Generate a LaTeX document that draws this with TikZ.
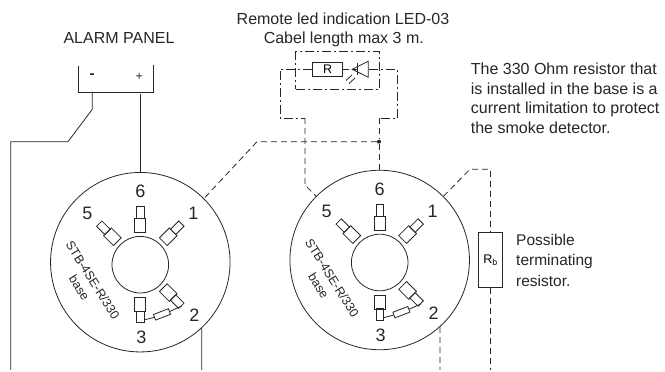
\documentclass[tikz,border=0pt]{standalone}
\usepackage{fontspec}
\setmainfont{Liberation Sans}
\usetikzlibrary{shapes.geometric}
\tikzset{
    wire/.style={line width=0.8pt,draw=black!85},
    dashwire/.style={wire,dash pattern=on 6pt off 4pt},
    ledwire/.style={wire,dash pattern=on 9pt off 3pt on 2pt off 3pt},
    box/.style={draw=black!85,line width=0.8pt,rectangle,inner sep=0pt},
    bigpin/.style={box,minimum width=11pt,minimum height=14pt},
    smallpin/.style={box,minimum width=7.5pt,minimum height=11.7pt},
    txt/.style={text=black!85,inner sep=0pt,font=\fontsize{16}{19.5}\selectfont},
    num/.style={text=black!85,inner sep=0pt,font=\fontsize{18}{20}\selectfont},
    small/.style={text=black!85,inner sep=0pt,font=\fontsize{12.5}{14}\selectfont},
}
\begin{document}
\begin{tikzpicture}[x=1pt,y=1pt]
    \useasboundingbox (0,0) rectangle (665,372);
    % the two bases
    \foreach \bx/\by/\bn in {140.3/107.3/l, 379.7/109.5/r} {
        \path (\bx, \by+2.5) node [draw=black!85,line width=0.8pt,circle,inner sep=0pt,minimum size=179.5pt] (base\bn) {};
        \path (\bx, \by) node [draw=black!85,line width=0.8pt,circle,inner sep=0pt,minimum size=56.6pt] (hole\bn) {};
        \foreach \ang/\pn in {45/1, 315/2, 270/3, 135/5, 90/6} {
            \path (\bx, \by) ++(\ang:39.5) node [bigpin,rotate=\ang-90] (big\bn\pn) {};
            \path (\bx, \by) ++(\ang:52.2) node [smallpin,rotate=\ang-90] (sm\bn\pn) {};
        }
        \path (\bx+21.7, \by-49.7) node [box,minimum width=16pt,minimum height=6pt,rotate=21] (res\bn) {};
        \draw [wire] (sm\bn3.145) -- (res\bn.west);
        \draw [wire] (res\bn.east) -- (sm\bn2.north);
        \path (\bx, \by+73) node [num] (six\bn) {6};
        \path (\bx+53, \by+51) node [num] (one\bn) {1};
        \path (\bx-53, \by+51) node [num] (five\bn) {5};
        \path (\bx+54, \by-51) node [num] (two\bn) {2};
        \path (\bx+1, \by-73) node [num] (three\bn) {3};
        \path (\bx-47.5, \by-15.5) node [small,rotate=-58] (type\bn) {STB-4SE-R/330};
        \path (\bx-61, \by-23) node [small,rotate=-58] (word\bn) {base};
    }

    % alarm panel
    \path (119, 333.7) node [txt] (panel) {ALARM PANEL};
    \path (92, 295.5) node [small,font=\fontsize{15}{15}\selectfont] (minus) {\textbf{-}};
    \path (139.3, 295) node [small] (plus) {+};
    \coordinate (pl) at (78.3,306);
    \coordinate (pr) at (153.3,307);
    \coordinate (pm) at (92.3,280);
    \coordinate (pp) at (140,278);
    \coordinate (endm) at (10.7,2);
    \coordinate (endp) at (201.7,2);
    \draw [wire] (pl) |- (pr |- pm) -- (pr);
    \draw [wire] (pm) -- (92.3,262.7) -- (68,230.3) -- (10.7,230.3) -- (endm);
    \draw [wire] (pp) -- (pp |- basel.north);
    \draw [wire] (basel.-47) -- (endp);

    % remote led
    \path (343, 353.7) node [txt] (title) {Remote led indication LED-03};
    \path (343.8, 333) node [txt] (cable) {Cabel length max 3 m.};
    \path (337.5, 301.5) node [box,ledwire,minimum width=83.6pt,minimum height=37.6pt] (encl) {};
    \path (327.7, 302.7) node [box,minimum width=30pt,minimum height=14.7pt,font=\fontsize{12.5}{14}\selectfont] (rled) {R};
    \path (363.3, 302.7) node [draw=black!85,line width=0.8pt,isosceles triangle,isosceles triangle apex angle=53,shape border rotate=180,inner sep=0pt,minimum height=12pt,minimum width=16pt] (led) {};
    \coordinate (ledtip) at (357.3,302.7);
    \draw [wire] (ledtip |- led.north) -- (ledtip |- led.south);
    \draw [wire] (352,297) -- (346,291.5) (355,294) -- (349,288.5);
    \coordinate (wla) at (305,254);
    \coordinate (wra) at (379,254);
    \draw [ledwire] (rled.west) -- (280,302.7) -- (280,254) -- (wla);
    \draw [dashwire] (rled.east) -- (ledtip);
    \draw [ledwire] (led.east) -- (397.3,302.7) -- (397.3,254) -- (wra);
    \draw [dashwire] (wla) -- (305,187) -- (baser.135);
    \path (379, 230.3) node [fill=black!85,circle,inner sep=0pt,minimum size=4pt] (junction) {};
    \draw [dashwire] (wra) -- (junction);
    \draw [dashwire] (junction) -- (wra |- baser.north);
    \draw [dashwire] (junction) -- (257,230.3) -- (basel.45);

    % terminating resistor
    \path (490.5, 111.8) node [box,minimum width=23.6pt,minimum height=55pt,font=\fontsize{12.5}{14}\selectfont] (rb) {R\textsubscript{b}};
    \coordinate (endb) at (440,2);
    \coordinate (endr) at (490.5,2);
    \draw [dashwire] (baser.45) -- (470,202.7) -- (490.5,202.7) -- (rb.north);
    \draw [dashwire] (rb.south) -- (endr);
    \draw [dashwire] (baser.-48) -- (endb);

    % notes
    \path (470.7, 309) node [txt,anchor=north west,align=left] (note) {The 330 Ohm resistor that\\is installed in the base is a\\current limitation to protect\\the smoke detector.};
    \path (516, 138) node [txt,anchor=north west,align=left,font=\fontsize{15.5}{20.5}\selectfont] (poss) {Possible\\terminating\\resistor.};
\end{tikzpicture}
\end{document}
